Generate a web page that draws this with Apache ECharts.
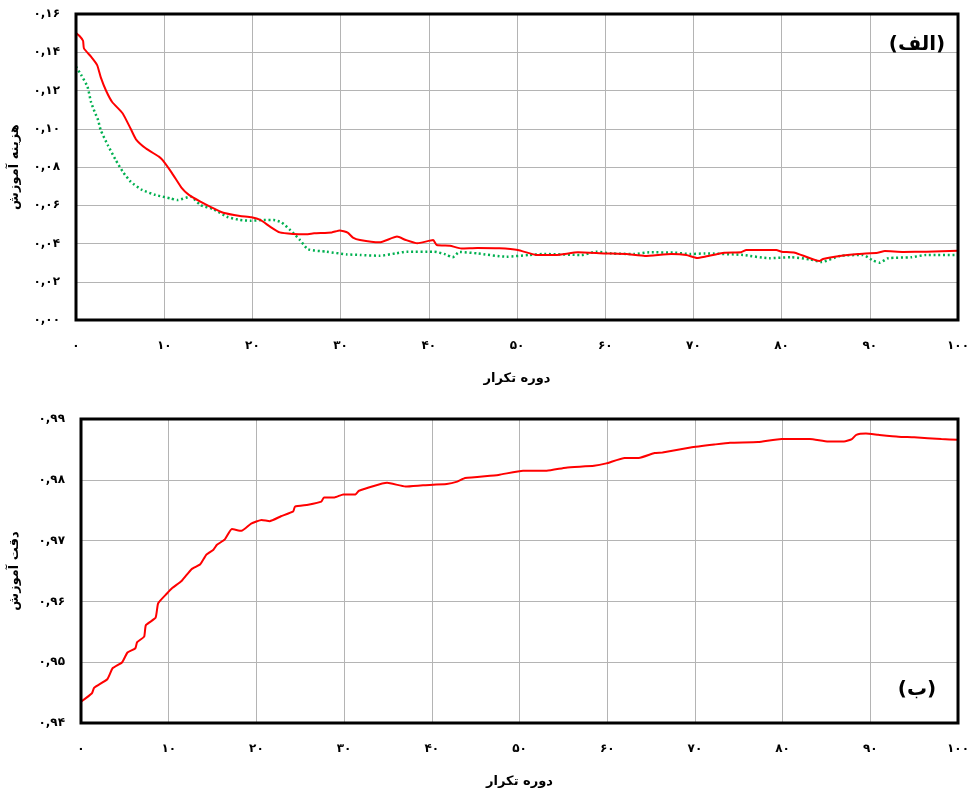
<!DOCTYPE html>
<html>
<head>
<meta charset="utf-8">
<script src="https://cdn.jsdelivr.net/npm/echarts@6/dist/echarts.min.js"></script>
<style>
html,body{margin:0;padding:0;background:#fff;}
#c{width:972px;height:794px;}
</style>
</head>
<body>
<div id="c"></div>
<script>
// ---- data ----
const xTickLabels = ['۰','۱۰','۲۰','۳۰','۴۰','۵۰','۶۰','۷۰','۸۰','۹۰','۱۰۰'];
const costTickLabels = ['۰,۰۰','۰,۰۲','۰,۰۴','۰,۰۶','۰,۰۸','۰,۱۰','۰,۱۲','۰,۱۴','۰,۱۶'];
const accTickLabels = ['۰,۹۴','۰,۹۵','۰,۹۶','۰,۹۷','۰,۹۸','۰,۹۹'];

const redCostIter = [0,0.4,0.8,0.9,1.7,2.4,2.8,3.4,4.1,5.3,6.2,6.8,7.9,9.4,9.8,10.9,12.0,12.8,14.1,15.2,16.7,18.6,19.9,20.9,22.0,23.1,24.6,26.1,27.0,29.0,29.9,30.8,31.4,32.2,34.4,36.4,37.4,38.7,40.5,40.9,42.4,43.7,45.5,48.0,50.1,52.2,54.4,56.9,59.9,62.4,64.5,67.5,69.2,70.4,71.3,73.5,75.4,76.0,79.4,80.0,81.5,84.3,84.7,86.6,88.7,90.9,91.7,93.8,96.4,100];
const redCost = [0.150,0.1485,0.146,0.142,0.1377,0.1333,0.127,0.120,0.114,0.108,0.100,0.0945,0.0898,0.0854,0.0837,0.0767,0.0689,0.0654,0.0619,0.0593,0.0561,0.0544,0.0537,0.0523,0.0488,0.0458,0.045,0.0448,0.0453,0.0458,0.0468,0.0457,0.0431,0.0418,0.0406,0.0436,0.0418,0.0401,0.0418,0.0392,0.0388,0.0374,0.0377,0.0375,0.0366,0.034,0.034,0.0354,0.0348,0.0345,0.0335,0.0345,0.034,0.0324,0.0331,0.0352,0.0354,0.0366,0.0366,0.0357,0.0352,0.0308,0.0319,0.0335,0.0345,0.0352,0.0361,0.0356,0.0357,0.0362];

const greenCostIter = [0,0.6,1.3,1.7,2.1,2.5,2.8,3.6,4.5,5.3,6.2,7.5,9.0,10.7,11.5,13.0,14.1,15.6,17.1,18.6,19.8,21.3,22.4,23.3,24.3,25.4,26.3,28.4,30.7,32.2,34.4,36.2,37.5,40.6,41.9,42.7,43.5,45.5,48.8,51.4,53.1,57.3,59.0,60.7,63.3,65.0,67.9,69.6,71.3,75.6,78.6,81.1,83.2,84.5,86.6,89.2,90.4,91.1,92.1,94.7,96.4,100];
const greenCost = [0.1325,0.128,0.122,0.114,0.109,0.1046,0.0993,0.0915,0.0837,0.0776,0.0723,0.068,0.0654,0.0636,0.0627,0.0645,0.0601,0.0579,0.054,0.0523,0.0519,0.0523,0.0523,0.051,0.047,0.0418,0.037,0.0357,0.0343,0.034,0.0336,0.0348,0.0357,0.0357,0.0343,0.0328,0.0356,0.0348,0.0331,0.034,0.0345,0.034,0.0357,0.0348,0.0345,0.0354,0.0352,0.0345,0.0348,0.034,0.0323,0.0328,0.0317,0.0303,0.0335,0.034,0.031,0.030,0.0323,0.0328,0.034,0.034];

const accIter = [0,1.25,1.5,3.0,3.6,4.7,5.3,6.2,6.4,7.2,7.4,8.5,8.8,9.8,10.4,11.5,12.6,13.6,14.3,15.1,15.5,16.4,17.2,18.3,19.4,20.6,21.5,22.8,24.2,24.4,25.9,27.4,27.7,28.9,29.9,31.3,31.7,34.9,37.0,39.0,41.7,42.9,43.8,47.6,50.4,53.1,55.3,58.5,59.9,62.0,63.6,65.4,66.3,69.5,72.2,74.0,77.2,79.9,83.1,85.2,87.0,87.9,88.4,89.5,90.9,93.2,95.0,98.1,100];
const accTrain = [0.9435,0.9449,0.9458,0.9472,0.949,0.950,0.9516,0.9523,0.9533,0.9542,0.9561,0.9573,0.9597,0.9613,0.9622,0.9634,0.9653,0.9661,0.9677,0.9685,0.9693,0.9702,0.9719,0.9716,0.9728,0.9734,0.9732,0.974,0.9748,0.9756,0.9759,0.9764,0.9771,0.9771,0.9776,0.9776,0.9782,0.9795,0.9789,0.9791,0.9793,0.9797,0.9803,0.9808,0.9815,0.9815,0.982,0.9823,0.9827,0.9836,0.9836,0.9844,0.9845,0.9853,0.9858,0.9861,0.9862,0.9867,0.9867,0.9863,0.9863,0.9867,0.9874,0.9876,0.9874,0.9871,0.987,0.9867,0.9866];

const xAxisTitle = 'دوره تکرار';
const costTitle = 'هزینه آموزش';
const accTitle = 'دقت آموزش';
const panelA = '(الف)';
const panelB = '(ب)';

// ---- chart ----
const FONT = 'DejaVu Sans';
const pairs = (xs, ys) => xs.map((x, i) => [x, ys[i]]);

const chart = echarts.init(document.getElementById('c'), null, {renderer: 'canvas'});

function xAxisCfg(gridIndex) {
  return {
    gridIndex, type: 'value', min: 0, max: 100, interval: 10,
    name: xAxisTitle, nameLocation: 'middle', nameGap: 52,
    nameTextStyle: {fontFamily: FONT, fontSize: 13, fontWeight: 'bold', color: '#000'},
    axisLine: {show: false}, axisTick: {show: false},
    axisLabel: {margin: 20, fontFamily: FONT, fontSize: 12, fontWeight: 'bold', color: '#000',
      formatter: v => xTickLabels[Math.round(v / 10)]},
    splitLine: {show: true, lineStyle: {color: '#b4b4b4', width: 1}}
  };
}

function yAxisCfg(gridIndex, min, max, interval, labels, title, gap) {
  return {
    gridIndex, type: 'value', min, max, interval,
    name: title, nameLocation: 'middle', nameGap: gap, nameRotate: 90,
    nameTextStyle: {fontFamily: FONT, fontSize: 13, fontWeight: 'bold', color: '#000'},
    axisLine: {show: false}, axisTick: {show: false},
    axisLabel: {margin: 16, fontFamily: FONT, fontSize: 12, fontWeight: 'bold', color: '#000',
      formatter: v => labels[Math.round((v - min) / interval)]},
    splitLine: {show: true, lineStyle: {color: '#b4b4b4', width: 1}}
  };
}

chart.setOption({
  backgroundColor: '#fff',
  animation: false,
  grid: [
    {left: 75, top: 14, width: 887, height: 306, show: true, borderColor: '#000', borderWidth: 3, backgroundColor: 'transparent', z: 5},
    {left: 80, top: 419, width: 882, height: 304, show: true, borderColor: '#000', borderWidth: 3, backgroundColor: 'transparent', z: 5}
  ],
  xAxis: [xAxisCfg(0), xAxisCfg(1)],
  yAxis: [
    yAxisCfg(0, 0, 0.16, 0.02, costTickLabels, costTitle, 55),
    yAxisCfg(1, 0.94, 0.99, 0.01, accTickLabels, accTitle, 60)
  ],
  series: [
    {type: 'line', xAxisIndex: 0, yAxisIndex: 0, data: pairs(greenCostIter, greenCost),
      showSymbol: false, smooth: 0.2, lineStyle: {color: '#00b050', width: 2.5, type: [2, 2.7], cap: 'butt'}},
    {type: 'line', xAxisIndex: 0, yAxisIndex: 0, data: pairs(redCostIter, redCost),
      showSymbol: false, smooth: 0.15, lineStyle: {color: '#ff0000', width: 2}},
    {type: 'line', xAxisIndex: 1, yAxisIndex: 1, data: pairs(accIter, accTrain),
      showSymbol: false, smooth: 0.15, lineStyle: {color: '#ff0000', width: 2}}
  ],
  graphic: [
    {type: 'rect', shape: {x: 875, y: 53, width: 82, height: 32}, style: {fill: '#fff'}, z: 1},
    {type: 'text', x: 917, y: 45, style: {text: panelA, fontFamily: FONT, fontSize: 20, fontWeight: 'bold', fill: '#000', align: 'center', verticalAlign: 'middle'}, z: 101},
    {type: 'rect', shape: {x: 877, y: 664, width: 80, height: 56}, style: {fill: '#fff'}, z: 1},
    {type: 'text', x: 917, y: 690, style: {text: panelB, fontFamily: FONT, fontSize: 20, fontWeight: 'bold', fill: '#000', align: 'center', verticalAlign: 'middle'}, z: 101}
  ]
});
</script>
</body>
</html>
